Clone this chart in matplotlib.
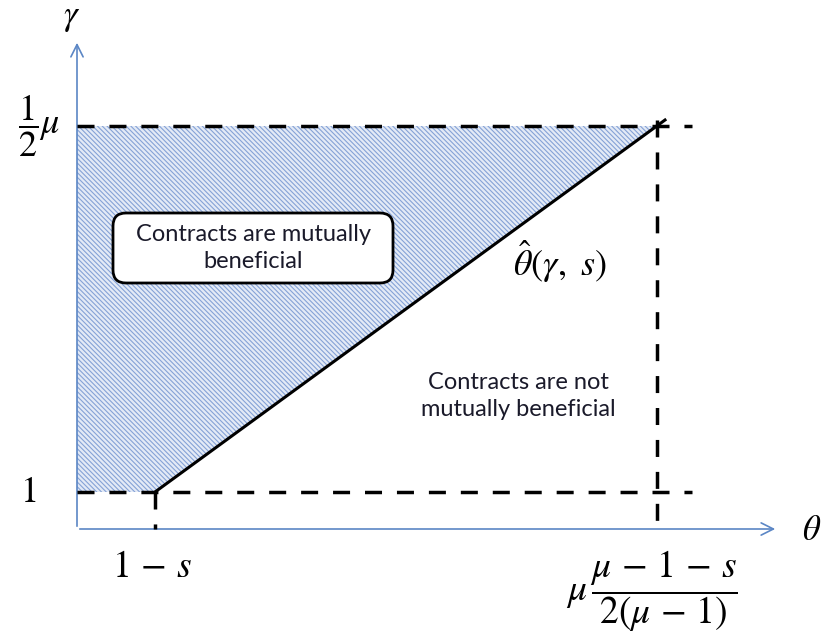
import matplotlib
matplotlib.use('Agg')
from matplotlib import pyplot as plt
from matplotlib.patches import FancyBboxPatch

plt.rcParams['mathtext.fontset'] = 'stix'
plt.rcParams['hatch.linewidth'] = 0.8

# positions of the key levels (abstract units, origin at the axes corner)
theta_low = 0.78      # 1 - s
theta_high = 5.80     # mu (mu-1-s) / (2(mu-1))
gamma_low = 0.37      # 1
gamma_high = 4.03     # mu / 2
axis_end_x = 7.01
axis_end_y = 4.89
dash_end_x = 6.15
diag_end = (5.88, 4.09)

theta_ticks = [theta_low, theta_high]
theta_tick_labels = [r'$1\,-\,s$', r'$\mu\,\dfrac{\mu\,-\,1\,-\,s}{2(\mu\,-\,1)}$']
gamma_ticks = [gamma_low, gamma_high]
gamma_tick_labels = [r'$1$', r'$\dfrac{1}{2}\mu$']

# callout box: centre, width, height
box_center = (1.76, 2.81)
box_w, box_h = 2.80, 0.70

AXIS_BLUE = '#5b86c5'
HATCH_BLUE = '#85a2d6'
TEXT = '#1a1a2a'

fig = plt.figure(figsize=(8.22, 6.37), dpi=100)
ax = fig.add_axes([0, 0, 1, 1])
ax.set_xlim(-0.77, 7.45)
ax.set_ylim(-1.08, 5.29)
ax.axis('off')

# shaded region (contracts mutually beneficial)
ax.fill([0, theta_high, theta_low, 0], [gamma_high, gamma_high, gamma_low, gamma_low],
        facecolor='#e3eaf6', edgecolor=HATCH_BLUE, hatch='\\' * 7, linewidth=0, zorder=1)

# axes with arrows
ax.annotate('', xy=(axis_end_x, 0), xytext=(0, 0),
            arrowprops=dict(arrowstyle='->', color=AXIS_BLUE, lw=1.2, mutation_scale=22))
ax.annotate('', xy=(0, axis_end_y), xytext=(0, 0),
            arrowprops=dict(arrowstyle='->', color=AXIS_BLUE, lw=1.2, mutation_scale=22))

dash = (0, (4.9, 4.3))
ax.plot([0, dash_end_x], [gamma_high, gamma_high], color='black', lw=2.5, ls=dash, zorder=3)
ax.plot([0, dash_end_x], [gamma_low, gamma_low], color='black', lw=2.5, ls=dash, zorder=3)
ax.plot([theta_high, theta_high], [diag_end[1], 0], color='black', lw=2.5, ls=dash, zorder=3)
ax.plot([theta_low, theta_low], [gamma_low, 0], color='black', lw=2.5, ls=dash, zorder=3)

# threshold line
ax.plot([theta_low, diag_end[0]], [gamma_low, diag_end[1]], color='black', lw=2.2, zorder=4)

# tick labels
ax.text(theta_ticks[0] - 0.03, -0.38, theta_tick_labels[0], fontsize=27, ha='center', va='center')
ax.text(theta_ticks[1] - 0.05, -0.62, theta_tick_labels[1], fontsize=27, ha='center', va='center')
ax.text(-0.49, gamma_ticks[0], gamma_tick_labels[0], fontsize=26, ha='center', va='center')
ax.text(-0.38, gamma_ticks[1], gamma_tick_labels[1], fontsize=26, ha='center', va='center')

# axis labels
ax.text(-0.05, 5.12, r'$\gamma$', fontsize=25, ha='center', va='center')
ax.text(7.35, -0.01, r'$\theta$', fontsize=25, ha='center', va='center')

ax.text(4.83, 2.67, r'$\hat{\theta}(\gamma,\ s)$', fontsize=26, ha='center', va='center')

ax.add_patch(FancyBboxPatch((box_center[0] - box_w / 2, box_center[1] - box_h / 2), box_w, box_h,
                            boxstyle='round,pad=0,rounding_size=0.13', facecolor='white',
                            edgecolor='black', lw=2, zorder=5))
ax.text(box_center[0], box_center[1], 'Contracts are mutually\nbeneficial', fontsize=17,
        family='Lato', color=TEXT, ha='center', va='center', linespacing=1.4, zorder=6)
ax.text(4.41, 1.33, 'Contracts are not\nmutually beneficial', fontsize=17, family='Lato',
        color=TEXT, ha='center', va='center', linespacing=1.4)

fig.savefig('out.png', dpi=100)
